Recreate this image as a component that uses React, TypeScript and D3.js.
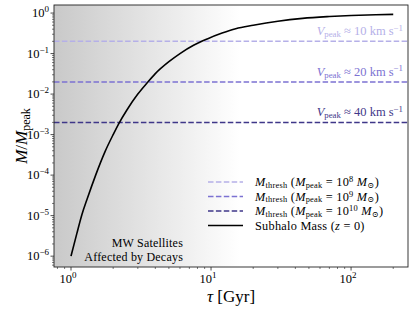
import React from 'react';
import * as d3 from 'd3';

// subhalo mass curve
const tauGyr = [1, 1.1, 1.2, 1.3, 1.4, 1.5, 1.75, 2, 2.2, 2.5, 3, 3.5, 4, 5, 6, 7.5, 9.4, 12, 15, 20, 30, 45, 70, 100, 150, 200];
const massRatio = [1.0e-6, 3.6e-6, 1.1e-5, 2.5e-5, 5.2e-5, 1.0e-4, 3.8e-4, 1.0e-3, 1.9e-3, 4.0e-3, 1.0e-2, 1.9e-2, 3.2e-2, 6.3e-2, 0.1, 0.16, 0.23, 0.32, 0.41, 0.5, 0.63, 0.74, 0.82, 0.87, 0.91, 0.93];

// thresholds
const threshMass = [0.2, 0.02, 0.002];
const threshMpeakExp = ['8', '9', '10'];
const threshVpeak = ['10', '20', '40'];
const threshColors = ['#b5b0e8', '#7c72d2', '#3f3789'];

const xTickDecades = [1, 10, 100];
const yTickExps = [-6, -5, -4, -3, -2, -1, 0];
const shadeEndGyr = 16;

const W = 415, H = 310;
const m = { left: 54, right: 7, top: 5, bottom: 43 };
const FONT = '"Liberation Serif", "DejaVu Serif", serif';

export default function App() {
  const x = d3.scaleLog().domain([0.756, 255]).range([m.left, W - m.right]);
  const y = d3.scaleLog().domain([1.58, 5.4e-7]).range([m.top, H - m.bottom]);

  const line = d3.line<number>()
    .x((_, i) => x(tauGyr[i]))
    .y((d) => y(d))
    .curve(d3.curveMonotoneX);

  const [x0, x1] = x.range();
  const [y0, y1] = y.range();

  const xMinor: number[] = [];
  [0.1, 1, 10, 100].forEach(d => {
    for (let k = 2; k <= 9; k++) {
      const v = k * d;
      if (v > x.domain()[0] && v < x.domain()[1]) xMinor.push(v);
    }
  });
  const yMinor: number[] = [];
  for (let e = -7; e <= 0; e++) {
    for (let k = 2; k <= 9; k++) {
      const v = k * Math.pow(10, e);
      if (v > y.domain()[1] && v < y.domain()[0]) yMinor.push(v);
    }
  }

  const legendY = [182, 196.5, 211, 225.5];
  const fs = 12.5, sub = 8.8;
  const lfs = 12.3, lsub = 8.4;

  return (
    <svg width={W} height={H} style={{ position: 'absolute', left: 0, top: 0, background: '#fff' }}
         fontFamily={FONT}>
      <defs>
        <linearGradient id="shade" gradientUnits="userSpaceOnUse" x1={x0} x2={x(shadeEndGyr)} y1={0} y2={0}>
          <stop offset="0" stopColor="#c9c9c9" />
          <stop offset="1" stopColor="#ffffff" />
        </linearGradient>
        <clipPath id="plot"><rect x={x0} y={y0} width={x1 - x0} height={y1 - y0} /></clipPath>
      </defs>

      <rect x={x0} y={y0} width={x1 - x0} height={y1 - y0} fill="url(#shade)" />

      <g clipPath="url(#plot)">
        {threshMass.map((v, i) => (
          <line key={i} x1={x0} x2={x1} y1={y(v)} y2={y(v)} stroke={threshColors[i]}
                strokeWidth={1.5} strokeDasharray="5.5 2.4" />
        ))}
        <path d={line(massRatio) || ''} fill="none" stroke="#000" strokeWidth={1.6} />
      </g>

      {threshMass.map((v, i) => (
        <text key={i} x={x1 - 5} y={y(v) - 6} textAnchor="end" fill={threshColors[i]} fontSize={fs}>
          <tspan fontStyle="italic">V</tspan>
          <tspan fontSize={sub} dy={2}>peak</tspan>
          <tspan dy={-2}> ≈ {threshVpeak[i]} km s</tspan>
          <tspan fontSize={sub} dy={-4.5}>−1</tspan>
        </text>
      ))}

      <text x={183} y={247} textAnchor="end" fontSize={12} letterSpacing={0.2}>MW Satellites</text>
      <text x={183} y={261} textAnchor="end" fontSize={12} letterSpacing={0.2}>Affected by Decays</text>

      {/* legend */}
      {threshMass.map((_, i) => (
        <g key={i}>
          <line x1={208} x2={243} y1={legendY[i]} y2={legendY[i]} stroke={threshColors[i]}
                strokeWidth={1.5} strokeDasharray="5.5 2.4" />
          <text x={255} y={legendY[i] + 4} fontSize={lfs} letterSpacing={0.25}>
            <tspan fontStyle="italic">M</tspan>
            <tspan fontSize={lsub} dy={1.5}>thresh</tspan>
            <tspan dy={-1.5}> (</tspan>
            <tspan fontStyle="italic">M</tspan>
            <tspan fontSize={lsub} dy={1.5}>peak</tspan>
            <tspan dy={-1.5}> = 10</tspan>
            <tspan fontSize={lsub} dy={-4}>{threshMpeakExp[i]}</tspan>
            <tspan dy={4}> </tspan>
            <tspan fontStyle="italic">M</tspan>
            <tspan fontSize={lsub} dy={1.5}>⊙</tspan>
            <tspan dy={-1.5}>)</tspan>
          </text>
        </g>
      ))}
      <line x1={208} x2={243} y1={legendY[3]} y2={legendY[3]} stroke="#000" strokeWidth={1.6} />
      <text x={255} y={legendY[3] + 4} fontSize={lfs} letterSpacing={0.25}>
        Subhalo Mass (<tspan fontStyle="italic">z</tspan> = 0)
      </text>

      {/* spines */}
      <rect x={x0} y={y0} width={x1 - x0} height={y1 - y0} fill="none" stroke="#222" strokeWidth={0.9} />

      {/* x ticks */}
      {xTickDecades.map((v, i) => (
        <g key={i}>
          <line x1={x(v)} x2={x(v)} y1={y1} y2={y1 + 3.5} stroke="#222" strokeWidth={0.8} />
          <text x={x(v) - 3} y={y1 + 16} textAnchor="middle" fontSize={12.5}>
            10<tspan fontSize={9} dy={-5}>{Math.round(Math.log10(v))}</tspan>
          </text>
        </g>
      ))}
      {xMinor.map((v, i) => (
        <line key={i} x1={x(v)} x2={x(v)} y1={y1} y2={y1 + 2} stroke="#222" strokeWidth={0.6} />
      ))}

      {/* y ticks */}
      {yTickExps.map((e, i) => (
        <g key={i}>
          <line x1={x0 - 3.5} x2={x0} y1={y(Math.pow(10, e))} y2={y(Math.pow(10, e))} stroke="#222" strokeWidth={0.8} />
          <text x={x0 - 5} y={y(Math.pow(10, e)) + 4} textAnchor="end" fontSize={12.5}>
            10<tspan fontSize={9} dy={-5}>{e < 0 ? `−${-e}` : `${e}`}</tspan>
          </text>
        </g>
      ))}
      {yMinor.map((v, i) => (
        <line key={i} x1={x0 - 2} x2={x0} y1={y(v)} y2={y(v)} stroke="#222" strokeWidth={0.6} />
      ))}

      {/* axis labels */}
      <text x={(x0 + x1) / 2} y={302} textAnchor="middle" fontSize={17}>
        <tspan fontStyle="italic">τ</tspan> [Gyr]
      </text>
      <text transform={`translate(27, ${(y0 + y1) / 2}) rotate(-90)`} textAnchor="middle" fontSize={17}>
        <tspan fontStyle="italic">M</tspan>/<tspan fontStyle="italic">M</tspan>
        <tspan fontSize={12} dy={3}>peak</tspan>
      </text>
    </svg>
  );
}
